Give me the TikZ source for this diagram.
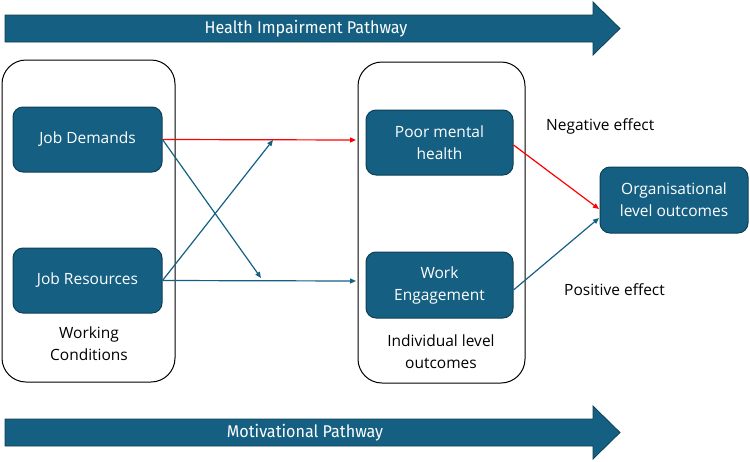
\documentclass[tikz,border=0pt]{standalone}
\usepackage{fontspec}
\setmainfont{Open Sans}
\newfontfamily\narrowfont{Fira Sans}
\usetikzlibrary{arrows.meta}
\definecolor{teal1}{HTML}{156082}
\definecolor{tealdark}{HTML}{0E3F56}
\definecolor{redline}{HTML}{FF0000}
\tikzset{
  box/.style={draw=tealdark, line width=1pt, fill=teal1, rounded corners=10pt, text=white, align=center, font=\fontsize{15.5}{22}\selectfont, inner sep=0pt},
  group/.style={draw=black, line width=1pt, rounded corners=24pt},
  lbl/.style={font=\fontsize{15.5}{22}\selectfont, align=center, inner sep=0pt},
  conn/.style={line width=1.2pt, -{Triangle[length=6pt,width=5pt]}},
  bigarrow/.style={draw=tealdark, line width=0.8pt, fill=teal1},
  arrtext/.style={text=white, font=\narrowfont\fontsize{17}{20}\selectfont, inner sep=0pt}
}
\begin{document}
\begin{tikzpicture}[x=1pt,y=-1pt]
\useasboundingbox (0,0) rectangle (750,461);
% top arrow
\draw[bigarrow] (5,15) -- (593,15) -- (593,2) -- (620,28.5) -- (593,55) -- (593,42) -- (5,42) -- cycle;
\node[arrtext] (hip) at (306,29) {\scalebox{0.95}[1]{Health Impairment Pathway}};
% bottom arrow
\draw[bigarrow] (5,419) -- (593,419) -- (593,406) -- (620,432.5) -- (593,459) -- (593,446) -- (5,446) -- cycle;
\node[arrtext] (mp) at (305,433) {\scalebox{0.95}[1]{Motivational Pathway}};
% groups
\draw[group] (2,60) rectangle (175,382);
\node (wc) [group, draw=none, minimum width=173pt, minimum height=322pt] at (88.5,221) {};
\node[lbl] (wctext) at (89,344) {Working\\Conditions};
\draw[group] (358,62) rectangle (525,383);
\node (ind) [draw=none, minimum width=167pt, minimum height=321pt, inner sep=0pt] at (441.5,222.5) {};
\node[lbl] (indtext) at (441,352) {Individual level\\outcomes};
% boxes
\node[box, minimum width=149pt, minimum height=65pt] (jd) at (87.5,139.5) {Job Demands};
\node[box, minimum width=149pt, minimum height=65pt] (jr) at (87.5,280.5) {Job Resources};
\node[box, minimum width=147pt, minimum height=65pt] (pmh) at (439.5,142.5) {Poor mental\\health};
\node[box, minimum width=147pt, minimum height=66pt] (we) at (439.5,285) {Work\\Engagement};
\node[box, minimum width=148pt, minimum height=66pt] (org) at (674,200) {Organisational\\level outcomes};
% labels
\node[lbl, anchor=west] (neg) at (546,126) {Negative effect};
\node[lbl, anchor=west] (pos) at (564,290) {Positive effect};
% connectors
\coordinate (c1) at (356,140);
\coordinate (c2) at (261,278);
\coordinate (c3) at (273,140);
\coordinate (c4) at (356,281);
\coordinate (o1) at (599,209);
\coordinate (o2) at (599,218);
\draw[conn, redline] (jd.east) -- (c1);
\draw[conn, teal1] (jd.east) -- (c2);
\draw[conn, teal1] (jr.east) -- (c3);
\draw[conn, teal1] (jr.east) -- (c4);
\draw[conn, redline] (pmh.east |- 0,145) -- (o1);
\draw[conn, teal1] (we.east |- 0,290) -- (o2);
\end{tikzpicture}
\end{document}
